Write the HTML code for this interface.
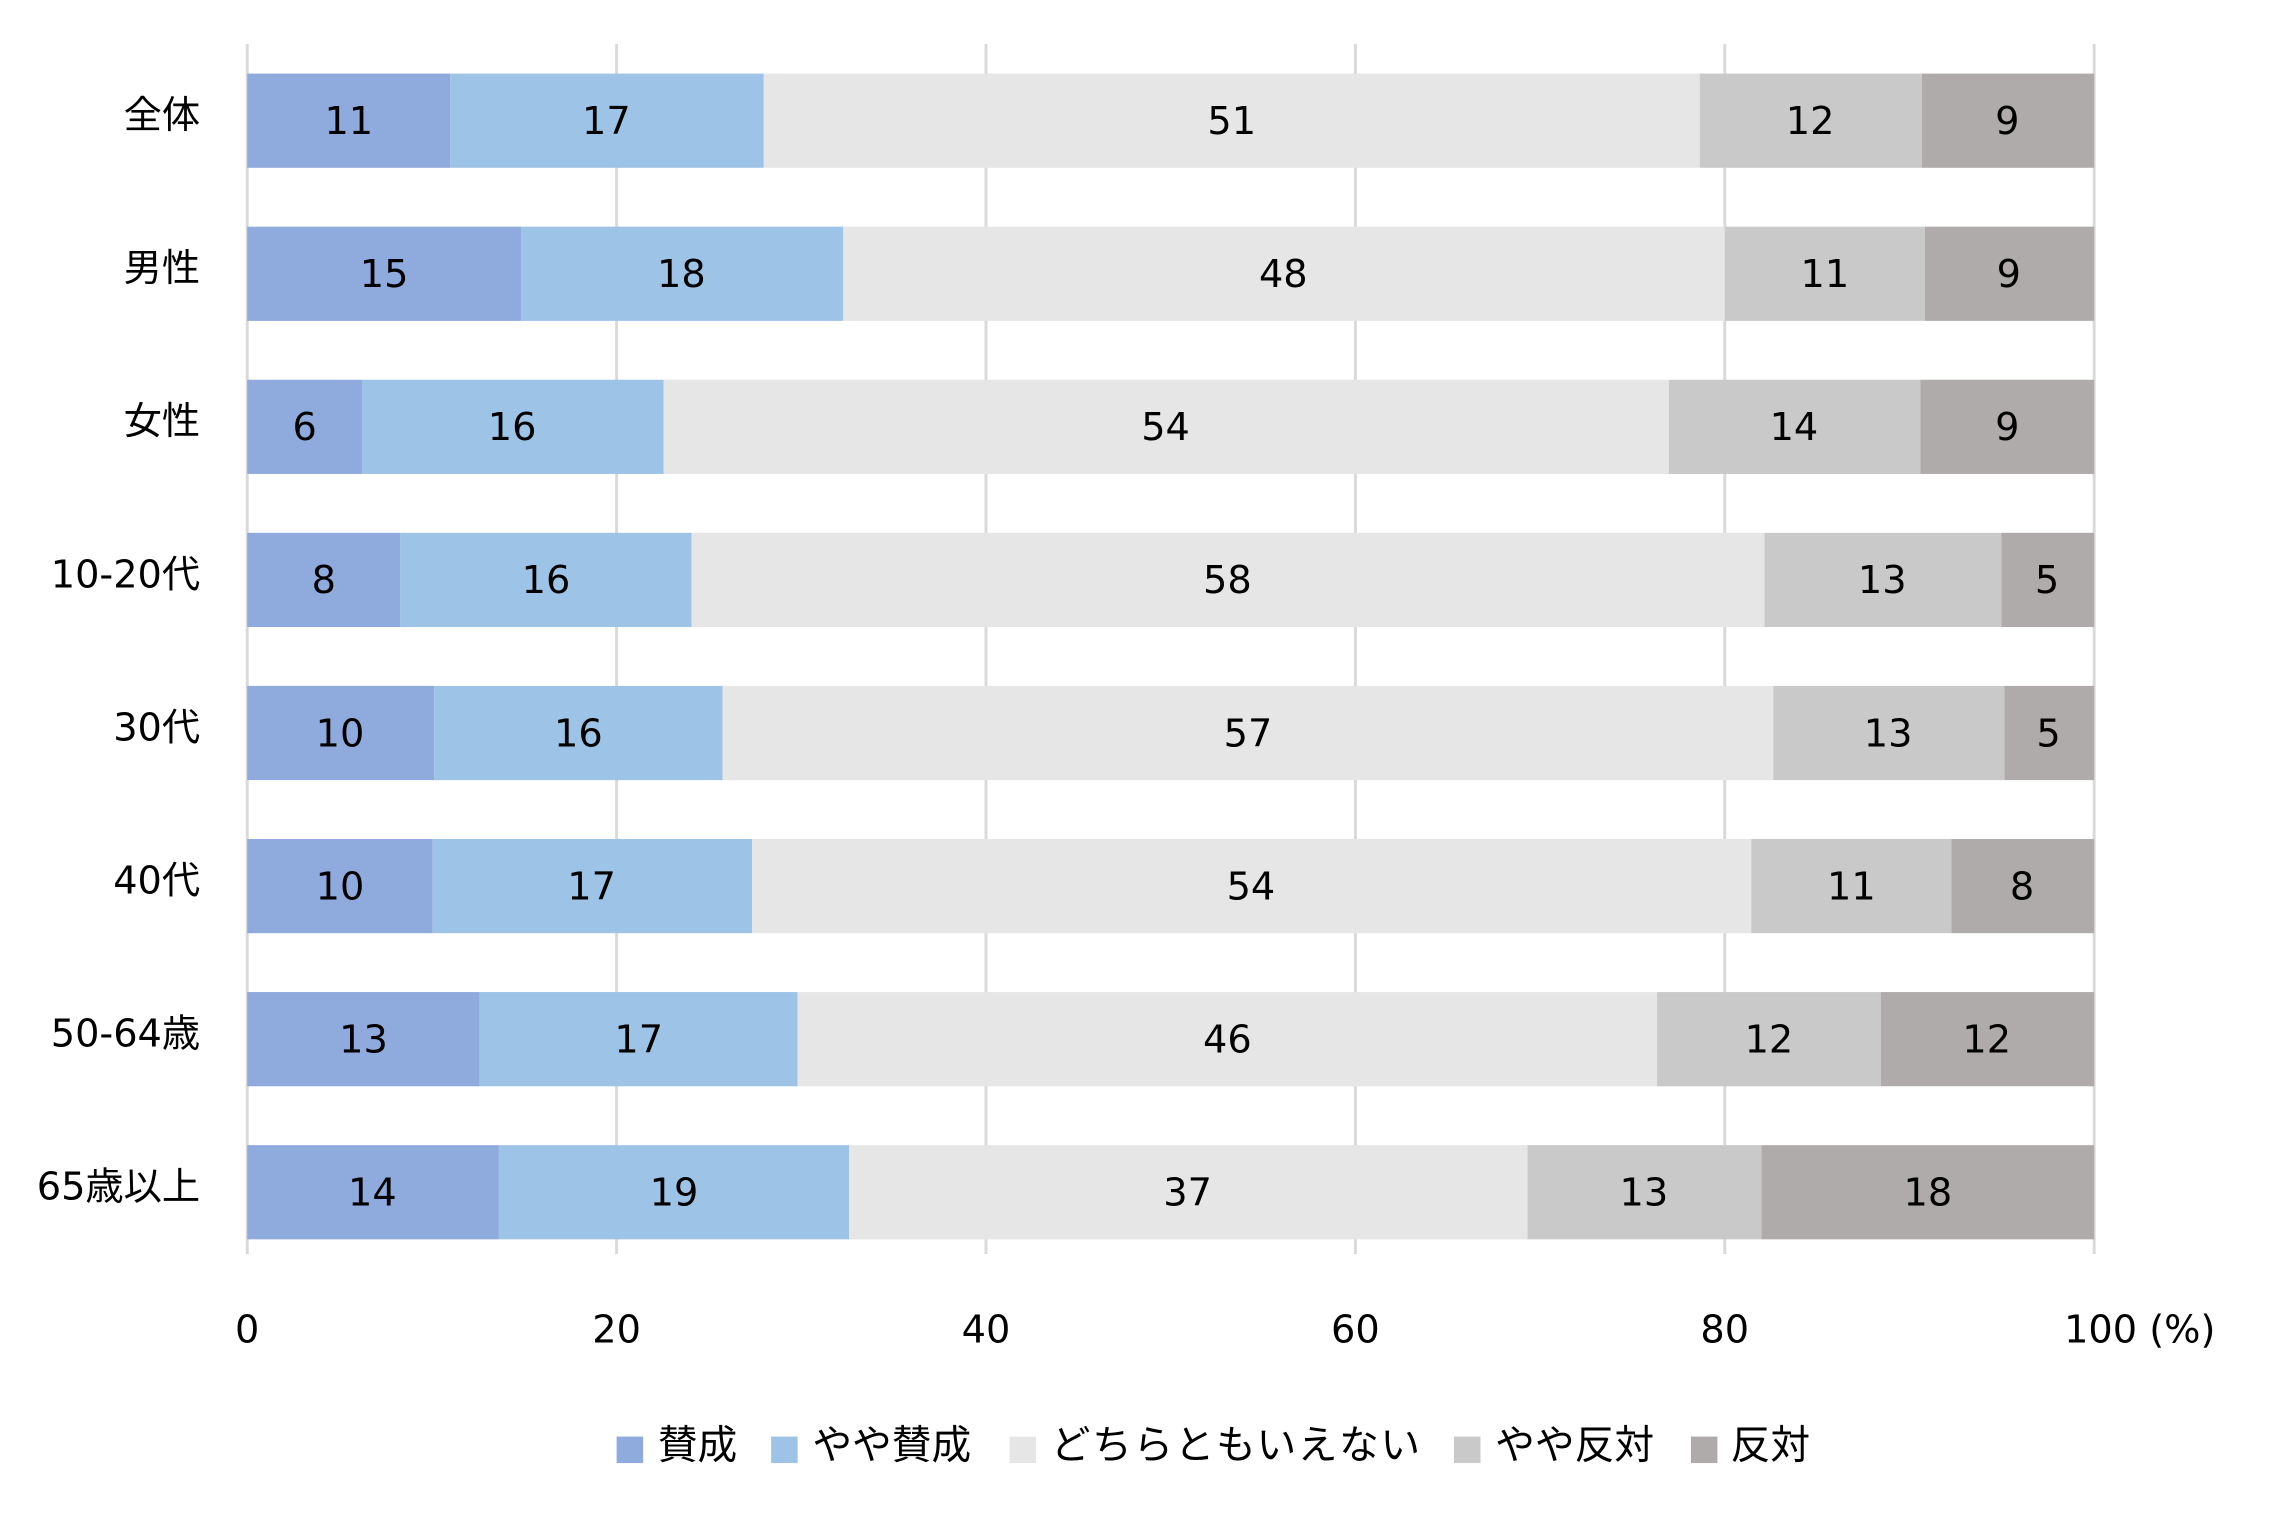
<!DOCTYPE html>
<html><head><meta charset="utf-8"><style>html,body{margin:0;padding:0;background:#fff}svg{display:block}</style></head>
<body>
<svg width="2284" height="1519" viewBox="0 0 1552 1032" preserveAspectRatio="none" xmlns="http://www.w3.org/2000/svg" font-family="'DejaVu Sans','Noto Sans CJK JP',sans-serif" font-size="26" fill="#000">
<rect width="1552" height="1032" fill="#fff"/>
<g stroke="#d9d9d9" stroke-width="2">
<line x1="168" y1="30" x2="168" y2="852"/><line x1="419" y1="30" x2="419" y2="852"/><line x1="670" y1="30" x2="670" y2="852"/><line x1="921" y1="30" x2="921" y2="852"/><line x1="1172" y1="30" x2="1172" y2="852"/><line x1="1423" y1="30" x2="1423" y2="852"/>
</g>
<g>
<rect x="168" y="50" width="138" height="64" fill="#8faadc"/><rect x="306" y="50" width="213" height="64" fill="#9dc3e6"/><rect x="519" y="50" width="636" height="64" fill="#e6e6e6"/><rect x="1155" y="50" width="151" height="64" fill="#c9c9c9"/><rect x="1306" y="50" width="117" height="64" fill="#afabab"/>
<rect x="168" y="154" width="186" height="64" fill="#8faadc"/><rect x="354" y="154" width="219" height="64" fill="#9dc3e6"/><rect x="573" y="154" width="599" height="64" fill="#e6e6e6"/><rect x="1172" y="154" width="136" height="64" fill="#c9c9c9"/><rect x="1308" y="154" width="115" height="64" fill="#afabab"/>
<rect x="168" y="258" width="78" height="64" fill="#8faadc"/><rect x="246" y="258" width="205" height="64" fill="#9dc3e6"/><rect x="451" y="258" width="683" height="64" fill="#e6e6e6"/><rect x="1134" y="258" width="171" height="64" fill="#c9c9c9"/><rect x="1305" y="258" width="118" height="64" fill="#afabab"/>
<rect x="168" y="362" width="104" height="64" fill="#8faadc"/><rect x="272" y="362" width="198" height="64" fill="#9dc3e6"/><rect x="470" y="362" width="729" height="64" fill="#e6e6e6"/><rect x="1199" y="362" width="161" height="64" fill="#c9c9c9"/><rect x="1360" y="362" width="63" height="64" fill="#afabab"/>
<rect x="168" y="466" width="127" height="64" fill="#8faadc"/><rect x="295" y="466" width="196" height="64" fill="#9dc3e6"/><rect x="491" y="466" width="714" height="64" fill="#e6e6e6"/><rect x="1205" y="466" width="157" height="64" fill="#c9c9c9"/><rect x="1362" y="466" width="61" height="64" fill="#afabab"/>
<rect x="168" y="570" width="126" height="64" fill="#8faadc"/><rect x="294" y="570" width="217" height="64" fill="#9dc3e6"/><rect x="511" y="570" width="679" height="64" fill="#e6e6e6"/><rect x="1190" y="570" width="136" height="64" fill="#c9c9c9"/><rect x="1326" y="570" width="97" height="64" fill="#afabab"/>
<rect x="168" y="674" width="158" height="64" fill="#8faadc"/><rect x="326" y="674" width="216" height="64" fill="#9dc3e6"/><rect x="542" y="674" width="584" height="64" fill="#e6e6e6"/><rect x="1126" y="674" width="152" height="64" fill="#c9c9c9"/><rect x="1278" y="674" width="145" height="64" fill="#afabab"/>
<rect x="168" y="778" width="171" height="64" fill="#8faadc"/><rect x="339" y="778" width="238" height="64" fill="#9dc3e6"/><rect x="577" y="778" width="461" height="64" fill="#e6e6e6"/><rect x="1038" y="778" width="159" height="64" fill="#c9c9c9"/><rect x="1197" y="778" width="226" height="64" fill="#afabab"/>
</g>
<g text-anchor="end">
<text x="136" y="87">全体</text><text x="136" y="191">男性</text><text x="136" y="295">女性</text><text x="136" y="399">10-20代</text><text x="136" y="503">30代</text><text x="136" y="607">40代</text><text x="136" y="711">50-64歳</text><text x="136" y="815">65歳以上</text>
</g>
<g text-anchor="middle">
<text x="237" y="91">11</text><text x="412" y="91">17</text><text x="837" y="91">51</text><text x="1230" y="91">12</text><text x="1364" y="91">9</text>
<text x="261" y="195">15</text><text x="463" y="195">18</text><text x="872" y="195">48</text><text x="1240" y="195">11</text><text x="1365" y="195">9</text>
<text x="207" y="299">6</text><text x="348" y="299">16</text><text x="792" y="299">54</text><text x="1219" y="299">14</text><text x="1364" y="299">9</text>
<text x="220" y="403">8</text><text x="371" y="403">16</text><text x="834" y="403">58</text><text x="1279" y="403">13</text><text x="1391" y="403">5</text>
<text x="231" y="507">10</text><text x="393" y="507">16</text><text x="848" y="507">57</text><text x="1283" y="507">13</text><text x="1392" y="507">5</text>
<text x="231" y="611">10</text><text x="402" y="611">17</text><text x="850" y="611">54</text><text x="1258" y="611">11</text><text x="1374" y="611">8</text>
<text x="247" y="715">13</text><text x="434" y="715">17</text><text x="834" y="715">46</text><text x="1202" y="715">12</text><text x="1350" y="715">12</text>
<text x="253" y="819">14</text><text x="458" y="819">19</text><text x="807" y="819">37</text><text x="1117" y="819">13</text><text x="1310" y="819">18</text>
</g>
<g text-anchor="middle">
<text x="168" y="912">0</text><text x="419" y="912">20</text><text x="670" y="912">40</text><text x="921" y="912">60</text><text x="1172" y="912">80</text><text x="1454" y="912">100 (%)</text>
</g>
<g font-size="27">
<rect x="419" y="976" width="18" height="18" fill="#8faadc"/><text x="447" y="991">賛成</text>
<rect x="524" y="976" width="18" height="18" fill="#9dc3e6"/><text x="552" y="991">やや賛成</text>
<rect x="686" y="976" width="18" height="18" fill="#e6e6e6"/><text x="714" y="991" textLength="251">どちらともいえない</text>
<rect x="988" y="976" width="18" height="18" fill="#c9c9c9"/><text x="1016" y="991">やや反対</text>
<rect x="1149" y="976" width="18" height="18" fill="#afabab"/><text x="1176" y="991">反対</text>
</g>
</svg>
</body></html>
